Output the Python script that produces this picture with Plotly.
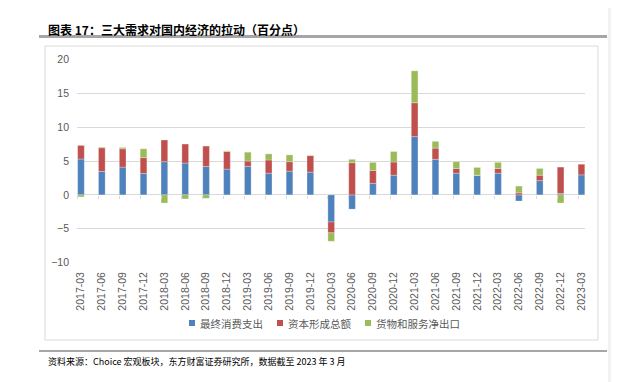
import plotly.graph_objects as go

quarters = ["2017-03", "2017-06", "2017-09", "2017-12", "2018-03", "2018-06", "2018-09", "2018-12",
            "2019-03", "2019-06", "2019-09", "2019-12", "2020-03", "2020-06", "2020-09", "2020-12",
            "2021-03", "2021-06", "2021-09", "2021-12", "2022-03", "2022-06", "2022-09", "2022-12",
            "2023-03"]
consumption = [5.3, 3.45, 4.1, 3.15, 4.9, 4.7, 4.2, 3.8, 4.2, 3.2, 3.5, 3.35, -4.0, -2.1, 1.7, 2.9,
               8.6, 5.25, 3.2, 2.85, 3.2, -0.9, 2.1, 0.2, 2.95]
capital = [2.0, 3.5, 2.7, 2.35, 3.2, 2.8, 3.0, 2.6, 0.8, 1.95, 1.4, 2.45, -1.6, 4.75, 1.9, 1.95,
           5.0, 1.65, 0.7, 0.05, 0.7, 0.3, 0.8, 3.9, 1.6]
net_exports = [-0.3, 0.1, 0.2, 1.3, -1.2, -0.6, -0.5, 0.1, 1.3, 0.9, 1.0, 0.05, -1.25, 0.5, 1.2, 1.55,
               4.7, 1.0, 1.0, 1.15, 0.9, 1.0, 1.0, -1.2, 0.0]
series_names = ["最终消费支出", "资本形成总额", "货物和服务净出口"]
colors = ["#4F81BD", "#C0504D", "#9BBB59"]
y_ticks = [-10, -5, 0, 5, 10, 15, 20]

# the page body has an 8px margin; the figure is sized/shifted to compensate
OFF = 8
W, H = 619 - OFF, 382 - OFF
ML, MR, MT, MB = 77 - OFF, 34, 59 - OFF, 119
PW, PH = W - ML - MR, H - MT - MB


def px(x):
    return (x - OFF - ML) / PW


def py(y):
    return (H - MB - (y - OFF)) / PH


idx = list(range(len(quarters)))
fig = go.Figure()
for name, vals, c in zip(series_names, [consumption, capital, net_exports], colors):
    fig.add_trace(go.Bar(x=idx, y=vals, name=name, marker_color=c, width=0.32,
                         marker_line=dict(color="rgba(255,255,255,0.45)", width=0.6),
                         showlegend=False))

# invisible trace on second x axis for ticks at zero line
fig.add_trace(go.Scatter(x=[None], y=[None], xaxis="x2", showlegend=False))

gray = "#595959"
fig.update_layout(
    width=W, height=H,
    margin=dict(l=ML, r=MR, t=MT, b=MB),
    paper_bgcolor="white", plot_bgcolor="white",
    barmode="relative",
    font=dict(family="Liberation Sans, Arial, sans-serif", size=10, color=gray),
    xaxis=dict(range=[-0.19, 24.17], tickvals=idx, ticktext=quarters, tickangle=-90,
               showgrid=False, zeroline=False, showline=False, ticks="",
               tickfont=dict(size=10.5, color=gray), ticklabelstandoff=6),
    xaxis2=dict(range=[-0.19, 24.17], overlaying="x", anchor="free", position=py(195),
                tickvals=[i - 0.16 for i in idx], showticklabels=False, ticks="outside",
                ticklen=3, tickcolor="#d9d9d9", showgrid=False, zeroline=False, showline=False),
    yaxis=dict(range=[-10.05, 20.05], tickvals=y_ticks, showgrid=True, gridcolor="#d9d9d9",
               gridwidth=1, zeroline=True, zerolinecolor="#d9d9d9", zerolinewidth=1,
               ticks="", tickfont=dict(size=10.5, color=gray), ticklabelstandoff=7),
)

shapes = [
    dict(type="rect", xref="paper", yref="paper", x0=px(608), x1=px(619), y0=py(0), y1=py(382),
         fillcolor="#f2f2f2", line=dict(width=0), layer="below"),
    dict(type="rect", xref="paper", yref="paper", x0=px(45), x1=px(598), y0=py(340), y1=py(46),
         line=dict(color="#d9d9d9", width=1), fillcolor="rgba(0,0,0,0)"),
    dict(type="line", xref="paper", yref="paper", x0=px(39), x1=px(607), y0=py(36.5), y1=py(36.5),
         line=dict(color="#a6a6a6", width=3)),
    dict(type="line", xref="paper", yref="paper", x0=px(39), x1=px(607), y0=py(351), y1=py(351),
         line=dict(color="#a6a6a6", width=2)),
]
annotations = [
    dict(text="<b>图表 17：三大需求对国内经济的拉动（百分点）</b>", xref="paper", yref="paper",
         x=px(46), y=py(29.5), xanchor="left", yanchor="middle", showarrow=False,
         font=dict(family="Noto Sans CJK SC", size=12, color="#000000")),
    dict(text="资料来源：Choice 宏观板块，东方财富证券研究所，数据截至 2023 年 3 月", xref="paper", yref="paper",
         x=px(46), y=py(361.5), xanchor="left", yanchor="middle", showarrow=False,
         font=dict(family="Noto Sans CJK SC", size=9, color="#000000")),
]
leg_x = [189, 277, 365]
for name, c, lx in zip(series_names, colors, leg_x):
    shapes.append(dict(type="rect", xref="paper", yref="paper", x0=px(lx), x1=px(lx + 6),
                       y0=py(326), y1=py(320), fillcolor=c, line=dict(width=0)))
    annotations.append(dict(text=name, xref="paper", yref="paper", x=px(lx + 9), y=py(323),
                            xanchor="left", yanchor="middle", showarrow=False,
                            font=dict(family="Noto Sans CJK SC", size=10.5, color=gray)))
fig.update_layout(shapes=shapes, annotations=annotations)

fig.write_html("out.html")
